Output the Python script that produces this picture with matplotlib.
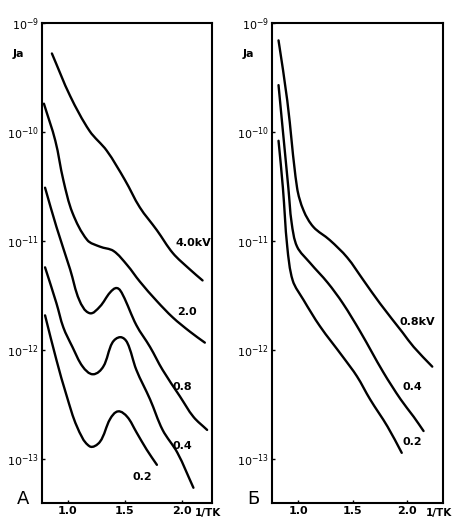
import numpy as np
import matplotlib
matplotlib.use("Agg")
import matplotlib.pyplot as plt
from matplotlib.path import Path
from matplotlib.patches import PathPatch

# panel A: x = 1/T, y = log10(Ja)
a_40_x = [0.86, 1.02, 1.19, 1.34, 1.50, 1.63, 1.78, 1.92, 2.07, 2.18]
a_40_y = [-9.28, -9.67, -9.99, -10.17, -10.44, -10.69, -10.90, -11.11, -11.26, -11.36]
a_20_x = [0.79, 0.89, 0.96, 1.04, 1.17, 1.28, 1.40, 1.52, 1.63, 1.78, 1.92, 2.07, 2.20]
a_20_y = [-9.74, -10.08, -10.44, -10.74, -10.99, -11.05, -11.09, -11.22, -11.37, -11.55, -11.70, -11.83, -11.93]
a_08_x = [0.80, 0.90, 1.02, 1.10, 1.19, 1.28, 1.37, 1.43, 1.48, 1.60, 1.72, 1.83, 1.98, 2.10, 2.22]
a_08_y = [-10.51, -10.87, -11.26, -11.54, -11.66, -11.60, -11.47, -11.43, -11.49, -11.77, -11.97, -12.18, -12.42, -12.61, -12.73]
a_04_x = [0.80, 0.90, 0.96, 1.04, 1.13, 1.22, 1.31, 1.39, 1.46, 1.52, 1.60, 1.72, 1.83, 1.96, 2.10]
a_04_y = [-11.24, -11.57, -11.79, -11.97, -12.15, -12.22, -12.15, -11.93, -11.88, -11.93, -12.18, -12.45, -12.73, -12.94, -13.26]
a_02_x = [0.80, 0.90, 0.99, 1.08, 1.19, 1.28, 1.37, 1.44, 1.52, 1.60, 1.69, 1.78]
a_02_y = [-11.68, -12.09, -12.42, -12.70, -12.88, -12.84, -12.63, -12.56, -12.61, -12.75, -12.91, -13.05]

# panel B
b_08_x = [0.82, 0.90, 0.99, 1.05, 1.14, 1.29, 1.45, 1.60, 1.75, 1.96, 2.06, 2.23]
b_08_y = [-9.16, -9.71, -10.51, -10.72, -10.87, -10.99, -11.15, -11.36, -11.57, -11.84, -11.97, -12.15]
b_04_x = [0.82, 0.86, 0.91, 0.94, 0.99, 1.11, 1.27, 1.41, 1.57, 1.78, 1.94, 2.06, 2.15]
b_04_y = [-9.57, -9.99, -10.51, -10.83, -11.05, -11.20, -11.38, -11.57, -11.83, -12.20, -12.45, -12.61, -12.74]
b_02_x = [0.82, 0.86, 0.90, 0.95, 1.05, 1.20, 1.41, 1.54, 1.66, 1.82, 1.95]
b_02_y = [-10.08, -10.51, -11.05, -11.36, -11.54, -11.78, -12.06, -12.24, -12.45, -12.70, -12.94]

y_ticks = [1e-9, 1e-10, 1e-11, 1e-12, 1e-13]
y_labels = ["$10^{-9}$", "$10^{-10}$", "$10^{-11}$", "$10^{-12}$", "$10^{-13}$"]
x_ticks = [1.0, 1.5, 2.0]
x_labels = ["1.0", "1.5", "2.0"]

panels = [
    ("A", (0.092, 0.0345, 0.374, 0.9215), (0.772, 2.263),
     [(a_40_x, a_40_y), (a_20_x, a_20_y), (a_08_x, a_08_y), (a_04_x, a_04_y), (a_02_x, a_02_y)],
     [("4.0kV", 2.10, -11.02), ("2.0", 2.04, -11.65), ("0.8", 2.00, -12.34),
      ("0.4", 2.00, -12.88), ("0.2", 1.65, -13.16)]),
    ("Б", (0.598, 0.0345, 0.376, 0.9215), (0.761, 2.33),
     [(b_08_x, b_08_y), (b_04_x, b_04_y), (b_02_x, b_02_y)],
     [("0.8kV", 2.09, -11.74), ("0.4", 2.05, -12.34), ("0.2", 2.05, -12.84)]),
]


def smooth_path(xs, ys, sx=112.0, sy=109.5):
    # smooth curve through the read points: cubic Bezier segments with
    # tangents taken from neighbouring points (in screen-like units)
    p = np.column_stack([np.asarray(xs) * sx, np.asarray(ys) * sy])
    n = len(p)
    dirs = []
    for i in range(n):
        d = p[min(i + 1, n - 1)] - p[max(i - 1, 0)]
        dirs.append(d / np.hypot(*d))
    verts = [p[0]]
    codes = [Path.MOVETO]
    for i in range(n - 1):
        L = np.hypot(*(p[i + 1] - p[i])) / 3
        verts += [p[i] + dirs[i] * L, p[i + 1] - dirs[i + 1] * L, p[i + 1]]
        codes += [Path.CURVE4] * 3
    verts = np.array(verts)
    verts[:, 0] /= sx
    verts[:, 1] = np.power(10.0, verts[:, 1] / sy)
    return Path(verts, codes)


fig = plt.figure(figsize=(4.55, 5.21), dpi=100)
font = dict(family="DejaVu Sans", weight="bold", size=8)

for name, rect, xlim, curves, labels in panels:
    ax = fig.add_axes(rect)
    ax.set_yscale("log")
    ax.set_xlim(*xlim)
    ax.set_ylim(10 ** -13.4, 1e-9)
    for xs, ys in curves:
        ax.add_patch(PathPatch(smooth_path(xs, ys), facecolor="none",
                               edgecolor="black", lw=1.7, capstyle="round",
                               joinstyle="round"))
    for txt, x, y in labels:
        ax.text(x, 10 ** y, txt, ha="center", va="center", **font)

    ax.set_yticks(y_ticks)
    ax.set_yticklabels(y_labels, fontsize=8, fontweight="bold")
    ax.yaxis.set_minor_locator(matplotlib.ticker.NullLocator())
    ax.set_xticks(x_ticks)
    ax.set_xticklabels(x_labels, fontsize=8, fontweight="bold")
    ax.tick_params(direction="in", length=2, width=1, pad=2)
    for s in ax.spines.values():
        s.set_linewidth(1.5)

    ax.text(-0.17, 0.935, "Ja", transform=ax.transAxes, ha="left", va="center", **font)
    ax.text(0.975, -0.01, "1/TK", transform=ax.transAxes, ha="center", va="top",
            family="DejaVu Sans", weight="bold", size=7.5)
    ax.text(-0.11, -0.01, name, transform=ax.transAxes, ha="center", va="bottom",
            family="DejaVu Sans", size=13)

fig.savefig("out.png", dpi=100)
